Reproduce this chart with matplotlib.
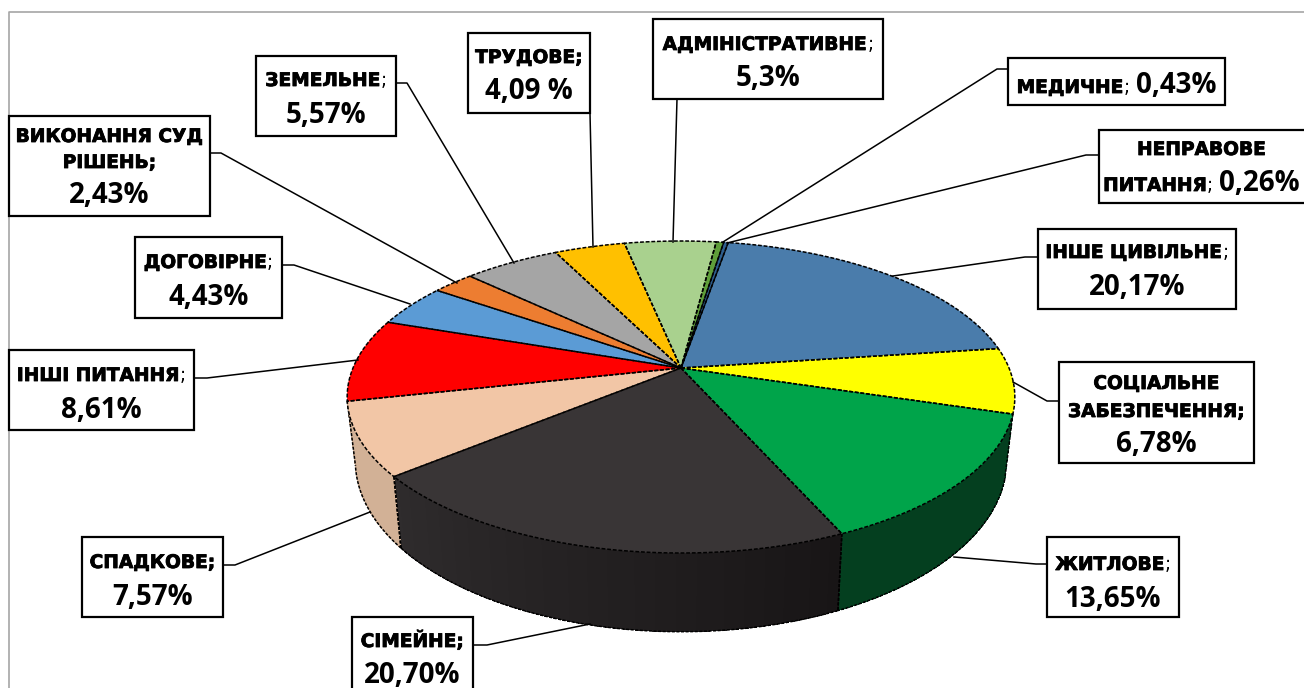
import numpy as np
import matplotlib
matplotlib.use('Agg')
from matplotlib import pyplot as plt
from matplotlib import patheffects
from matplotlib.patches import Polygon, Rectangle

categories = ['ІНШЕ ЦИВІЛЬНЕ', 'СОЦІАЛЬНЕ ЗАБЕЗПЕЧЕННЯ', 'ЖИТЛОВЕ', 'СІМЕЙНЕ', 'СПАДКОВЕ',
              'ІНШІ ПИТАННЯ', 'ДОГОВІРНЕ', 'ВИКОНАННЯ СУД РІШЕНЬ', 'ЗЕМЕЛЬНЕ', 'ТРУДОВЕ',
              'АДМІНІСТРАТИВНЕ', 'МЕДИЧНЕ', 'НЕПРАВОВЕ ПИТАННЯ']
values = [20.17, 6.78, 13.65, 20.70, 7.57, 8.61, 4.43, 2.43, 5.57, 4.09, 5.3, 0.43, 0.26]
top_colors = ['#4a7cab', '#ffff00', '#00a44a', '#393536', '#f2c6a6', '#ff0000', '#5b9bd5',
              '#ed7d31', '#a5a5a5', '#ffc000', '#a9d18e', '#5f9e3a', '#2f5f8f']
# only these three walls can be seen in the picture
side_colors = [None, None, '#043f1f', '#1c191a', '#d2b196', None, None,
               None, None, None, None, None, None]

# label text, one list of runs per line: cap = bold caps, thin = plain ;, pct = number
labels = [
    [[('ІНШЕ ЦИВІЛЬНЕ', 'cap'), (';', 'thin')], [('20,17%', 'pct')]],
    [[('СОЦІАЛЬНЕ', 'cap')], [('ЗАБЕЗПЕЧЕННЯ;', 'cap')], [('6,78%', 'pct')]],
    [[('ЖИТЛОВЕ', 'cap'), (';', 'thin')], [('13,65%', 'pct')]],
    [[('СІМЕЙНЕ;', 'cap')], [('20,70%', 'pct')]],
    [[('СПАДКОВЕ;', 'cap')], [('7,57%', 'pct')]],
    [[('ІНШІ ПИТАННЯ', 'cap'), (';', 'thin')], [('8,61%', 'pct')]],
    [[('ДОГОВІРНЕ', 'cap'), (';', 'thin')], [('4,43%', 'pct')]],
    [[('ВИКОНАННЯ СУД', 'cap')], [('РІШЕНЬ;', 'cap')], [('2,43%', 'pct')]],
    [[('ЗЕМЕЛЬНЕ', 'cap'), (';', 'thin')], [('5,57%', 'pct')]],
    [[('ТРУДОВЕ;', 'cap')], [('4,09 %', 'pct')]],
    [[('АДМІНІСТРАТИВНЕ', 'cap'), (';', 'thin')], [('5,3%', 'pct')]],
    [[('МЕДИЧНЕ', 'cap'), ('; ', 'thin'), ('0,43%', 'pct')]],
    [[('НЕПРАВОВЕ', 'cap')], [('ПИТАННЯ', 'cap'), ('; ', 'thin'), ('0,26%', 'pct')]],
]

# layout in pixels of the 1304x688 picture
boxes = [(1038, 229, 1236, 309), (1059, 362, 1254, 463), (1047, 537, 1179, 617), (352, 617, 473, 700),
         (82, 537, 223, 617), (9, 350, 194, 430), (135, 237, 282, 318), (9, 116, 210, 216),
         (256, 56, 396, 136), (468, 33, 590, 113), (653, 19, 883, 99), (1008, 58, 1225, 105),
         (1099, 130, 1310, 203)]
baselines = [[258, 295], [389, 417, 452], [570, 607], [647, 683], [568, 605], [381, 418], [268, 305],
             [142, 168, 203], [86, 123], [63, 99], [50, 86], [93], [155, 191]]
leaders = [[(1038, 257), (1025, 257), (893, 276)], [(1059, 401), (1047, 401), (1013, 382)],
           [(1047, 564), (1036, 564), (954, 557)], [(473, 645), (487, 645), (590, 624)],
           [(223, 565), (235, 565), (370, 512)], [(194, 378), (207, 378), (358, 360)],
           [(282, 265), (294, 265), (410, 304)], [(210, 153), (221, 153), (457, 283)],
           [(396, 83), (407, 83), (514, 263)], [(590, 113), (593, 247)],
           [(677, 99), (673, 242)], [(1008, 69), (997, 69), (723, 242)],
           [(1099, 155), (1086, 155), (727, 243)]]

START = 9.8
TOP = dict(cx=681, cy=368, b=328, a=150.6, k=0.186)
BOT = dict(cx=681, cy=429, b=320, a=165, k=0.186)
CAP = dict(family='DejaVu Sans', weight='bold', size=13.4,
           path_effects=[patheffects.withStroke(linewidth=0.6, foreground='black')])
THIN = dict(family='DejaVu Sans', weight='normal', size=13.4)
PCT = dict(family='Open Sans', weight='bold', size=20)
STYLES = {'cap': CAP, 'thin': THIN, 'pct': PCT}


def project(theta, p):
    t = np.radians(theta)
    x, y = np.sin(t), -np.cos(t)
    d = 1 - p['k'] * y
    return p['cx'] + p['b'] * x / d, p['cy'] + p['a'] * y / d


def mix(c1, c2, f):
    a, b = np.array(matplotlib.colors.to_rgb(c1)), np.array(matplotlib.colors.to_rgb(c2))
    return a + (b - a) * f


def draw_line(ax, runs, xc, y, renderer):
    # mixed fonts on one line, so measure the runs and centre them by hand
    arts = [ax.text(0, y, s, va='baseline', ha='left', color='black', zorder=6, **STYLES[k]) for s, k in runs]
    widths = [a.get_window_extent(renderer).width for a in arts]
    x = xc - sum(widths) / 2
    for a, w in zip(arts, widths):
        a.set_x(x)
        x += w


fig = plt.figure(figsize=(13.04, 6.88), dpi=100)
ax = fig.add_axes([0, 0, 1, 1])
ax.set_xlim(0, 1304)
ax.set_ylim(688, 0)
ax.axis('off')

# chart frame
ax.plot([9, 9, 1304], [688, 12, 12], color='#a6a6a6', lw=1.2, zorder=0)

edges = START + np.concatenate([[0], np.cumsum(values)]) * 3.6 / sum(values) * 100

# side wall first, the top faces cover the part at the back
for i in range(len(values)):
    if side_colors[i] is None:
        continue
    a0, a1 = edges[i], edges[i + 1]
    steps = np.linspace(a0, a1, int(a1 - a0) + 2)
    for t0, t1 in zip(steps[:-1], steps[1:]):
        col = side_colors[i]
        if categories[i] == 'СІМЕЙНЕ':
            col = mix('#181516', '#2f2c2d', (t0 - a0) / (a1 - a0))
        pts = [project(t0, TOP), project(t1 + 0.3, TOP), project(t1 + 0.3, BOT), project(t0, BOT)]
        ax.add_patch(Polygon(pts, closed=True, fc=col, ec='none', antialiased=False, zorder=1))
    # dotted edges of the wall
    ts = np.linspace(a0, a1, 60)
    bx, by = project(ts, BOT)
    ax.plot(bx, by, color='black', lw=1.1, ls=(0, (2, 1)), zorder=2)
    for t in (a0, a1):
        p, q = project(t, TOP), project(t, BOT)
        ax.plot([p[0], q[0]], [p[1], q[1]], color='black', lw=1.1, ls=(0, (2, 1)), zorder=2)

for i in range(len(values)):
    ts = np.linspace(edges[i], edges[i + 1], max(int(edges[i + 1] - edges[i]) * 2, 2) + 1)
    rx, ry = project(ts, TOP)
    pts = np.column_stack([np.r_[TOP['cx'], rx], np.r_[TOP['cy'], ry]])
    ax.add_patch(Polygon(pts, closed=True, fc=top_colors[i], ec=top_colors[i], lw=0.3, zorder=3))
    ax.add_patch(Polygon(pts, closed=True, fill=False, ec='black', lw=1.1, ls=(0, (2.5, 1.2)), zorder=4))

# labels
renderer = fig.canvas.get_renderer()
for i in range(len(values)):
    x0, y0, x1, y1 = boxes[i]
    xs, ys = zip(*leaders[i])
    ax.plot(xs, ys, color='black', lw=1.1, zorder=5)
    ax.add_patch(Rectangle((x0, y0), x1 - x0, y1 - y0, fc='white', ec='black', lw=1.6, zorder=5))
    xc = (x0 + min(x1, 1304)) / 2
    for runs, base in zip(labels[i], baselines[i]):
        draw_line(ax, runs, xc, base, renderer)

fig.savefig('out.png', dpi=100, facecolor='white')
